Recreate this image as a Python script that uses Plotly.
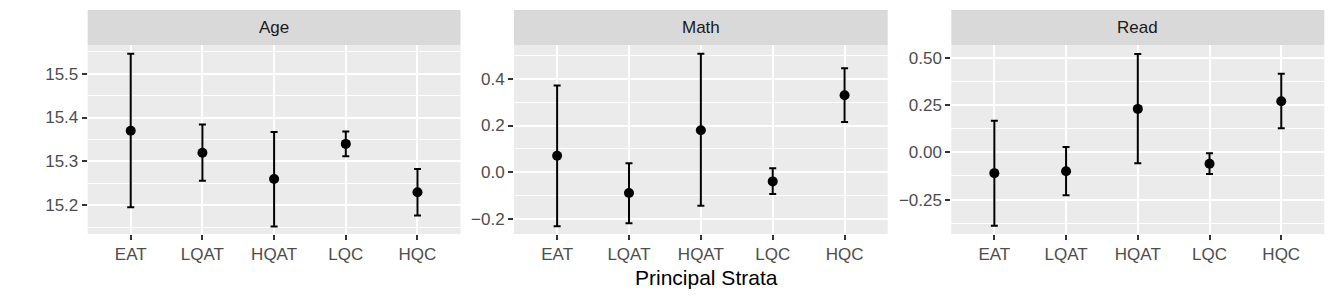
import plotly.graph_objects as go

W, H = 1336, 300

categories = ["EAT", "LQAT", "HQAT", "LQC", "HQC"]
panels = ["Age", "Math", "Read"]

age_est = [15.37, 15.32, 15.26, 15.34, 15.23]
age_lo = [15.196, 15.256, 15.152, 15.312, 15.177]
age_hi = [15.545, 15.384, 15.367, 15.368, 15.283]

math_est = [0.07, -0.09, 0.18, -0.04, 0.33]
math_lo = [-0.233, -0.22, -0.145, -0.094, 0.215]
math_hi = [0.372, 0.038, 0.508, 0.016, 0.446]

read_est = [-0.11, -0.10, 0.23, -0.06, 0.27]
read_lo = [-0.389, -0.227, -0.058, -0.114, 0.127]
read_hi = [0.167, 0.028, 0.52, -0.005, 0.416]

age_ticks = [15.2, 15.3, 15.4, 15.5]
age_ticktext = ["15.2", "15.3", "15.4", "15.5"]
math_ticks = [-0.2, 0.0, 0.2, 0.4]
math_ticktext = ["\u22120.2", "0.0", "0.2", "0.4"]
read_ticks = [-0.25, 0.0, 0.25, 0.5]
read_ticktext = ["\u22120.25", "0.00", "0.25", "0.50"]

data = [
    (age_est, age_lo, age_hi, age_ticks, age_ticktext, [15.135, 15.565], 0.05, 15.15),
    (math_est, math_lo, math_hi, math_ticks, math_ticktext, [-0.266, 0.546], 0.1, -0.3),
    (read_est, read_lo, read_hi, read_ticks, read_ticktext, [-0.432, 0.568], 0.125, -0.375),
]

# panel pixel extents (layout only)
x_px = [(87.7, 460.5), (514.0, 887.7), (951.3, 1324.3)]
plot_top, plot_bot = 45.0, 234.0
strip_top = 10.0

FAMILY = "Liberation Sans, Arial, sans-serif"
TICK_FONT = dict(family=FAMILY, size=17, color="#4D4D4D")

fig = go.Figure()
layout = dict(
    width=W, height=H,
    margin=dict(l=0, r=0, t=0, b=0),
    paper_bgcolor="white",
    plot_bgcolor="#EBEBEB",
    showlegend=False,
    template="none",
    shapes=[], annotations=[],
)

xs = list(range(1, len(categories) + 1))
for i, (est, lo, hi, tv, tt, yr, mdt, m0) in enumerate(data):
    n = "" if i == 0 else str(i + 1)
    fig.add_trace(go.Scatter(
        x=xs, y=est, mode="markers",
        marker=dict(color="black", size=10),
        error_y=dict(type="data", symmetric=False,
                     array=[h - e for h, e in zip(hi, est)],
                     arrayminus=[e - l for e, l in zip(est, lo)],
                     color="black", thickness=2, width=3.5),
        xaxis="x" + n, yaxis="y" + n, hoverinfo="skip",
    ))
    x0, x1 = x_px[i][0] / W, x_px[i][1] / W
    y0, y1 = 1 - plot_bot / H, 1 - plot_top / H
    layout["xaxis" + n] = dict(
        domain=[x0, x1], anchor="y" + n, range=[0.4, len(categories) + 0.6],
        tickvals=xs, ticktext=categories, tickfont=TICK_FONT,
        showgrid=True, gridcolor="white", gridwidth=2, zeroline=False,
        ticks="outside", ticklen=5, tickwidth=1.5, tickcolor="#333333",
        showline=False, automargin=False, fixedrange=True,
    )
    layout["yaxis" + n] = dict(
        domain=[y0, y1], anchor="x" + n, range=yr,
        tickvals=tv, ticktext=tt, tickfont=TICK_FONT,
        showgrid=True, gridcolor="white", gridwidth=2, zeroline=False,
        ticks="outside", ticklen=5, tickwidth=1.5, tickcolor="#333333",
        minor=dict(dtick=mdt, tick0=m0, showgrid=True, gridcolor="white",
                   gridwidth=1, ticks=""),
        showline=False, automargin=False, fixedrange=True,
    )
    layout["shapes"].append(dict(
        type="rect", xref="paper", yref="paper",
        x0=x0, x1=x1, y0=1 - plot_top / H, y1=1 - strip_top / H,
        fillcolor="#D9D9D9", line=dict(width=0), layer="below",
    ))
    layout["annotations"].append(dict(
        text=panels[i], xref="paper", yref="paper",
        x=(x0 + x1) / 2, y=1 - (strip_top + plot_top) / 2 / H,
        xanchor="center", yanchor="middle", showarrow=False,
        font=dict(family=FAMILY, size=17, color="#1A1A1A"),
    ))

layout["annotations"].append(dict(
    text="Principal Strata", xref="paper", yref="paper",
    x=(x_px[0][0] + x_px[2][1]) / 2 / W, y=1 - 277 / H,
    xanchor="center", yanchor="middle", showarrow=False,
    font=dict(family=FAMILY, size=21, color="black"),
))

fig.update_layout(**layout)
fig.write_html("out.html")
